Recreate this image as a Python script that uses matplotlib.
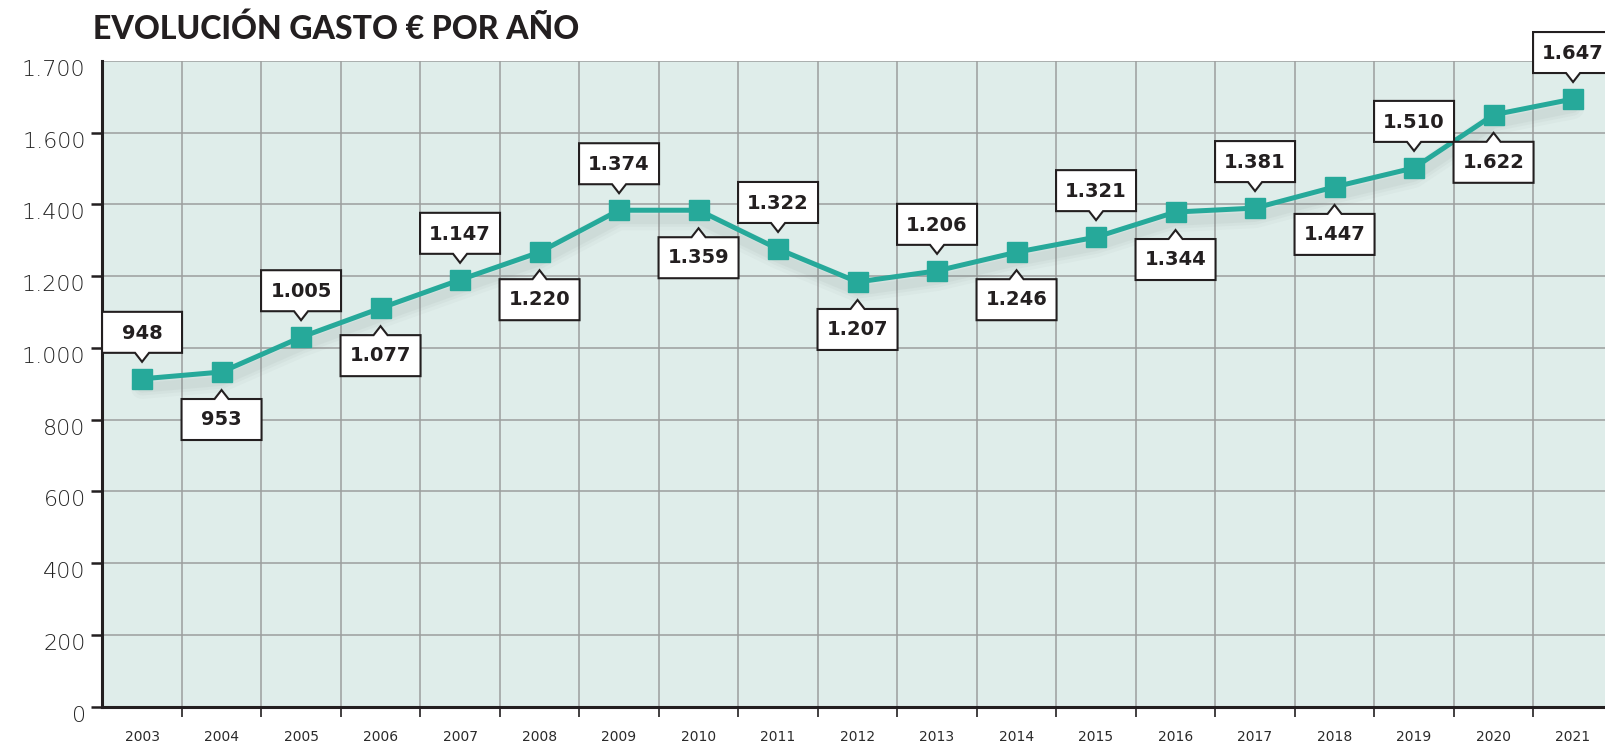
import numpy as np
import matplotlib
matplotlib.use("Agg")
import matplotlib.pyplot as plt
from matplotlib.patches import Polygon
from matplotlib.transforms import ScaledTranslation

# years and spending, labels as printed
years = ["2003", "2004", "2005", "2006", "2007", "2008", "2009", "2010", "2011", "2012",
         "2013", "2014", "2015", "2016", "2017", "2018", "2019", "2020", "2021"]
gasto = [914, 933, 1030, 1111, 1190, 1267, 1384, 1384, 1276, 1184,
         1215, 1267, 1309, 1379, 1390, 1449, 1502, 1650, 1694]
etiquetas = ["948", "953", "1.005", "1.077", "1.147", "1.220", "1.374", "1.359", "1.322", "1.207",
             "1.206", "1.246", "1.321", "1.344", "1.381", "1.447", "1.510", "1.622", "1.647"]
ytick_vals = [0, 200, 400, 600, 800, 1000, 1200, 1400, 1600, 1800]
ytick_labels = ["0", "200", "400", "600", "800", "1.000", "1.200", "1.400", "1.600", "1.700"]

teal = "#26a99a"
dark = "#231f20"
bg = "#dfedea"
grid = "#9c9e9e"

fig = plt.figure(figsize=(16.06, 7.47), dpi=100)
W, H = 1606, 747
left, bottom, top = 102.3, 706.7, 61
ax = fig.add_axes([left / W, 1 - bottom / H, 1 - left / W, (bottom - top) / H])
ax.set_facecolor(bg)

x = np.arange(len(years))
cell = 79.5
ax.set_xlim(-0.5, -0.5 + (W - left) / cell)
ax.set_ylim(0, 1800)

# soft shadow under the line
for lw, a in [(16, 0.04), (11, 0.05), (7, 0.06)]:
    sh = ax.transData + ScaledTranslation(0, -9 / 100, fig.dpi_scale_trans)
    ax.plot(x, gasto, color="#6a7a78", lw=lw, alpha=a, transform=sh,
            solid_capstyle="round", zorder=2)

ax.plot(x, gasto, color=teal, lw=3.6, marker="s", ms=14.5, mec=teal, mfc=teal, zorder=3)

# value callouts, alternating above / below
up = np.array([(-40, 26), (-7, 26), (0, 17), (7, 26), (40, 26), (40, 67), (-40, 67)]) / 100
for i, (v, lab) in enumerate(zip(gasto, etiquetas)):
    s = 1 if i % 2 == 0 else -1
    tr = fig.dpi_scale_trans + ScaledTranslation(i, v, ax.transData)
    verts = up.copy()
    verts[:, 1] = verts[:, 1] * s + (0 if s > 0 else -0.01)
    ax.add_patch(Polygon(verts, closed=True, fc="white", ec=dark, lw=1.5,
                         transform=tr, clip_on=False, zorder=5))
    ax.text(0, s * 0.465 - 0.01, lab, transform=tr, ha="center", va="center",
            fontsize=14, fontweight="bold", family="DejaVu Sans", color=dark, zorder=6)

# grid and ticks
ax.set_xticks(x[:-1] + 0.5)
ax.set_xticklabels([])
ax.set_xticks(x, minor=True)
ax.set_xticklabels(years, minor=True, family="DejaVu Sans", fontsize=10, color="#2a2a2a")
ax.tick_params(axis="x", which="major", length=7.5, width=1.2, color=dark, direction="out")
ax.tick_params(axis="x", which="minor", length=0, pad=17)
ax.set_yticks(ytick_vals)
ax.set_yticklabels(ytick_labels, family="DejaVu Sans", fontweight="light", fontsize=16,
                   color="#222222")
ax.tick_params(axis="y", length=8, width=1.8, color=dark, pad=4)
ax.yaxis.get_major_ticks()[-1].tick1line.set_visible(False)
for lab in ax.get_yticklabels():
    lab.set_transform(lab.get_transform() + ScaledTranslation(0, -7 / 100, fig.dpi_scale_trans))

ax.grid(True, which="major", color=grid, lw=1.1)
ax.set_axisbelow(True)
for sp in ["top", "right"]:
    ax.spines[sp].set_visible(False)
for sp in ["left", "bottom"]:
    ax.spines[sp].set_color(dark)
    ax.spines[sp].set_linewidth(2.2)

fig.text(93 / W, 1 - 29 / H, "EVOLUCIÓN GASTO € POR AÑO", ha="left", va="center",
         fontsize=23, fontweight="black", family="Lato", color=dark)

fig.savefig("out.png", dpi=100)
